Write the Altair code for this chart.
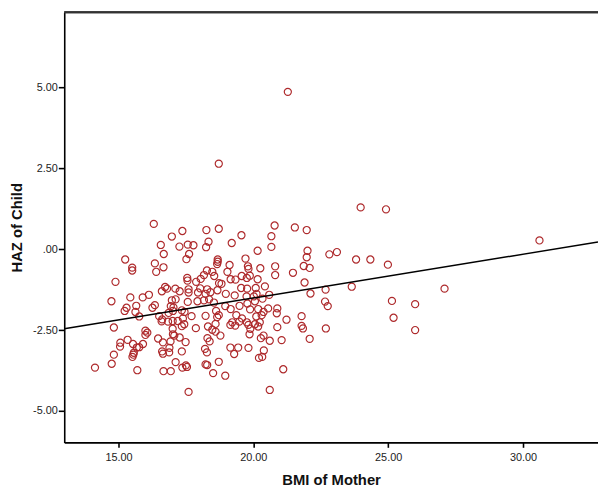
import altair as alt
import pandas as pd

# BMI of mother (x) and HAZ of child (y)
bmi = [
    16.31, 17.37, 16.98, 16.57, 17.26, 17.57, 17.78, 16.68, 17.62, 17.52, 15.25, 16.35, 16.67, 15.51, 15.51, 16.40, 14.89, 17.55, 17.56, 17.88, 18.05,
    18.72, 18.26, 18.72, 20.79, 21.54, 21.98, 19.56, 20.67, 18.34, 19.20, 18.25, 20.67, 20.16, 22.01, 21.98, 19.71, 18.68, 18.68, 18.66, 19.12, 19.80,
    19.82, 20.26, 20.81, 21.87, 22.09, 18.28, 18.48, 18.17, 19.04, 19.57, 19.87, 19.76, 20.81, 21.47, 18.55, 19.16, 19.34, 20.16, 21.90, 18.73, 18.82,
    14.74, 15.44, 15.90, 16.13, 15.66, 15.30, 15.23, 15.63, 16.26, 16.35, 15.77, 16.61, 16.73, 16.80, 17.11, 17.27, 17.60, 17.60, 17.95, 16.98, 17.12,
    17.57, 17.93, 16.94, 17.04, 17.02, 16.51, 16.86, 17.35, 17.45, 17.71, 16.60, 16.62, 16.84, 17.01, 17.20, 17.39, 17.44, 17.35, 17.87, 14.83, 16.00,
    16.07, 16.00, 17.01, 17.02, 17.07, 17.27, 16.47, 15.34, 15.07, 15.06, 15.54, 15.91, 15.77, 15.68, 16.65, 16.93, 16.89, 17.49, 16.62, 16.65, 16.88,
    17.35, 15.55, 15.52, 15.57, 14.83, 14.75, 14.13, 15.70, 17.12, 17.37, 17.50, 17.54, 16.67, 16.94, 17.60, 18.03,
    18.29, 18.41, 18.23, 18.17, 18.54, 18.36, 18.67, 18.98, 19.31, 19.55, 19.77, 20.09, 20.12, 20.02, 20.43, 20.59, 19.75, 19.78, 20.06, 20.34, 18.96,
    19.16, 18.62, 18.72, 18.66, 18.23, 19.49, 19.88, 20.18, 20.38, 20.31, 20.55, 20.89, 20.87, 19.37, 19.58, 20.11, 21.23, 21.79, 19.22, 19.48, 19.15,
    19.33, 19.76, 19.82, 20.06, 20.24, 20.18, 18.60, 18.32, 18.48, 18.60, 18.78, 19.89, 20.89, 21.79, 21.84, 19.86, 20.38, 20.28, 20.61, 21.05, 22.09,
    18.30, 18.38, 19.15, 19.44, 19.82, 19.29, 20.39, 20.33, 20.21, 18.21, 18.28, 18.72, 18.23, 18.29, 18.51, 18.96, 21.11, 20.61, 22.12,
    22.82, 23.10, 23.81, 24.34, 24.99, 22.68, 23.65, 22.66, 22.76, 25.14, 25.20, 22.69, 23.98, 24.92, 27.09, 26.00, 26.00, 30.61, 21.28,
]
haz = [
    0.78, 0.56, 0.39, 0.13, 0.08, 0.14, 0.12, -0.15, -0.15, -0.31, -0.32, -0.44, -0.56, -0.57, -0.66, -0.70, -1.01, -0.89, -0.97, -1.01, -0.92,
    2.64, 0.59, 0.63, 0.73, 0.67, 0.59, 0.43, 0.40, 0.23, 0.19, 0.06, 0.07, -0.05, -0.05, -0.25, -0.29, -0.32, -0.39, -0.46, -0.49, -0.53,
    -0.61, -0.59, -0.53, -0.52, -0.58, -0.66, -0.70, -0.80, -0.70, -0.83, -0.82, -0.89, -0.80, -0.73, -0.83, -0.93, -0.94, -0.93, -1.03, -1.05, -1.07,
    -1.61, -1.49, -1.49, -1.41, -1.75, -1.81, -1.91, -1.94, -1.81, -1.73, -2.08, -1.30, -1.17, -1.22, -1.22, -1.30, -1.24, -1.34, -1.34, -1.58, -1.55,
    -1.63, -1.61, -1.76, -1.80, -1.91, -2.07, -1.97, -1.89, -1.94, -2.07, -2.23, -2.17, -2.24, -2.22, -2.22, -2.14, -2.32, -2.38, -2.44, -2.42, -2.52,
    -2.58, -2.65, -2.46, -2.63, -2.67, -2.73, -2.76, -2.80, -2.89, -3.01, -2.93, -2.93, -3.03, -3.04, -2.88, -2.85, -3.05, -2.87, -3.16, -3.23, -3.19,
    -3.16, -3.26, -3.33, -3.20, -3.26, -3.54, -3.66, -3.74, -3.49, -3.66, -3.59, -3.64, -3.77, -3.77, -4.41, -1.21,
    -1.24, -1.33, -1.38, -1.58, -1.65, -1.55, -1.27, -1.38, -1.43, -1.20, -1.22, -1.20, -1.38, -1.46, -1.15, -1.41, -1.46, -1.68, -1.61, -1.53, -1.76,
    -1.85, -1.91, -2.04, -2.10, -2.06, -1.75, -1.86, -1.85, -1.94, -2.04, -1.83, -1.83, -1.98, -2.04, -2.14, -2.08, -2.18, -2.07, -2.26, -2.24, -2.34,
    -2.36, -2.26, -2.34, -2.32, -2.26, -2.39, -2.31, -2.39, -2.49, -2.55, -2.67, -2.46, -2.41, -2.37, -2.45, -2.63, -2.67, -2.75, -2.83, -2.81, -2.77,
    -2.75, -2.85, -3.04, -3.04, -3.05, -3.24, -3.13, -3.33, -3.36, -3.08, -3.19, -3.48, -3.56, -3.58, -3.83, -3.91, -3.71, -4.35, -1.37,
    -0.16, -0.09, -0.32, -0.32, -0.48, -1.25, -1.16, -1.62, -1.76, -1.60, -2.12, -2.45, 1.29, 1.23, -1.22, -1.70, -2.50, 0.27, 4.86,
]

# Fit line end points
fit_bmi = [12.99, 32.78]
fit_haz = [-2.46, 0.22]

x_ticks = [15, 20, 25, 30]
y_ticks = [-5, -2.5, 0, 2.5, 5]
x_domain = [12.99, 32.78]
y_domain = [-5.97, 7.32]

points_df = pd.DataFrame({"bmi": bmi, "haz": haz})
fit_df = pd.DataFrame({"bmi": fit_bmi, "haz": fit_haz})

W, H = 541, 436
FONT = "Liberation Sans"
RED = "#AE2A2C"

x_scale = alt.Scale(domain=x_domain, nice=False, zero=False)
y_scale = alt.Scale(domain=y_domain, nice=False, zero=False)

x_axis = alt.Axis(
    values=x_ticks, format=".2f", title="BMI of Mother", grid=False,
    domainColor="black", domainWidth=1.6, tickColor="black", tickWidth=1.6, tickSize=5,
    labelFont=FONT, labelFontSize=11, labelColor="#222", labelPadding=4,
    titleFont=FONT, titleFontSize=15, titleFontWeight="bold", titleColor="#111",
    titleY=38, titleBaseline="middle",
)
y_axis = alt.Axis(
    values=y_ticks, title="HAZ of Child", grid=False,
    labelExpr="datum.value == 0 ? '.00' : (datum.value < 0 ? '-' : '') + format(abs(datum.value), '.2f')",
    domainColor="black", domainWidth=1.6, tickColor="black", tickWidth=1.6, tickSize=6,
    labelFont=FONT, labelFontSize=11, labelColor="#222", labelPadding=1,
    titleFont=FONT, titleFontSize=15, titleFontWeight="bold", titleColor="#111",
    titleX=-48, titleY=H / 2, titleBaseline="middle", titleAlign="center", titleAngle=270,
)

points = alt.Chart(points_df).mark_point(
    shape="circle", filled=False, size=52, strokeWidth=1.2, color=RED, opacity=1, clip=True
).encode(
    x=alt.X("bmi:Q", scale=x_scale, axis=x_axis),
    y=alt.Y("haz:Q", scale=y_scale, axis=y_axis),
)

fit = alt.Chart(fit_df).mark_line(color="black", strokeWidth=1.5, clip=True).encode(
    x=alt.X("bmi:Q", scale=x_scale),
    y=alt.Y("haz:Q", scale=y_scale),
)

top_border = alt.Chart(fit_df).mark_rule(color="#333", strokeWidth=2).encode(
    x=alt.value(0), x2=alt.value(W), y=alt.value(0)
)

chart = alt.layer(points, fit, top_border).properties(
    width=W, height=H,
    autosize="none",
    padding={"left": 57, "top": 1, "right": 0, "bottom": 46},
).configure_view(stroke=None).configure(background="white")

chart.save("out.html", embed_options={"renderer": "svg", "actions": False})
